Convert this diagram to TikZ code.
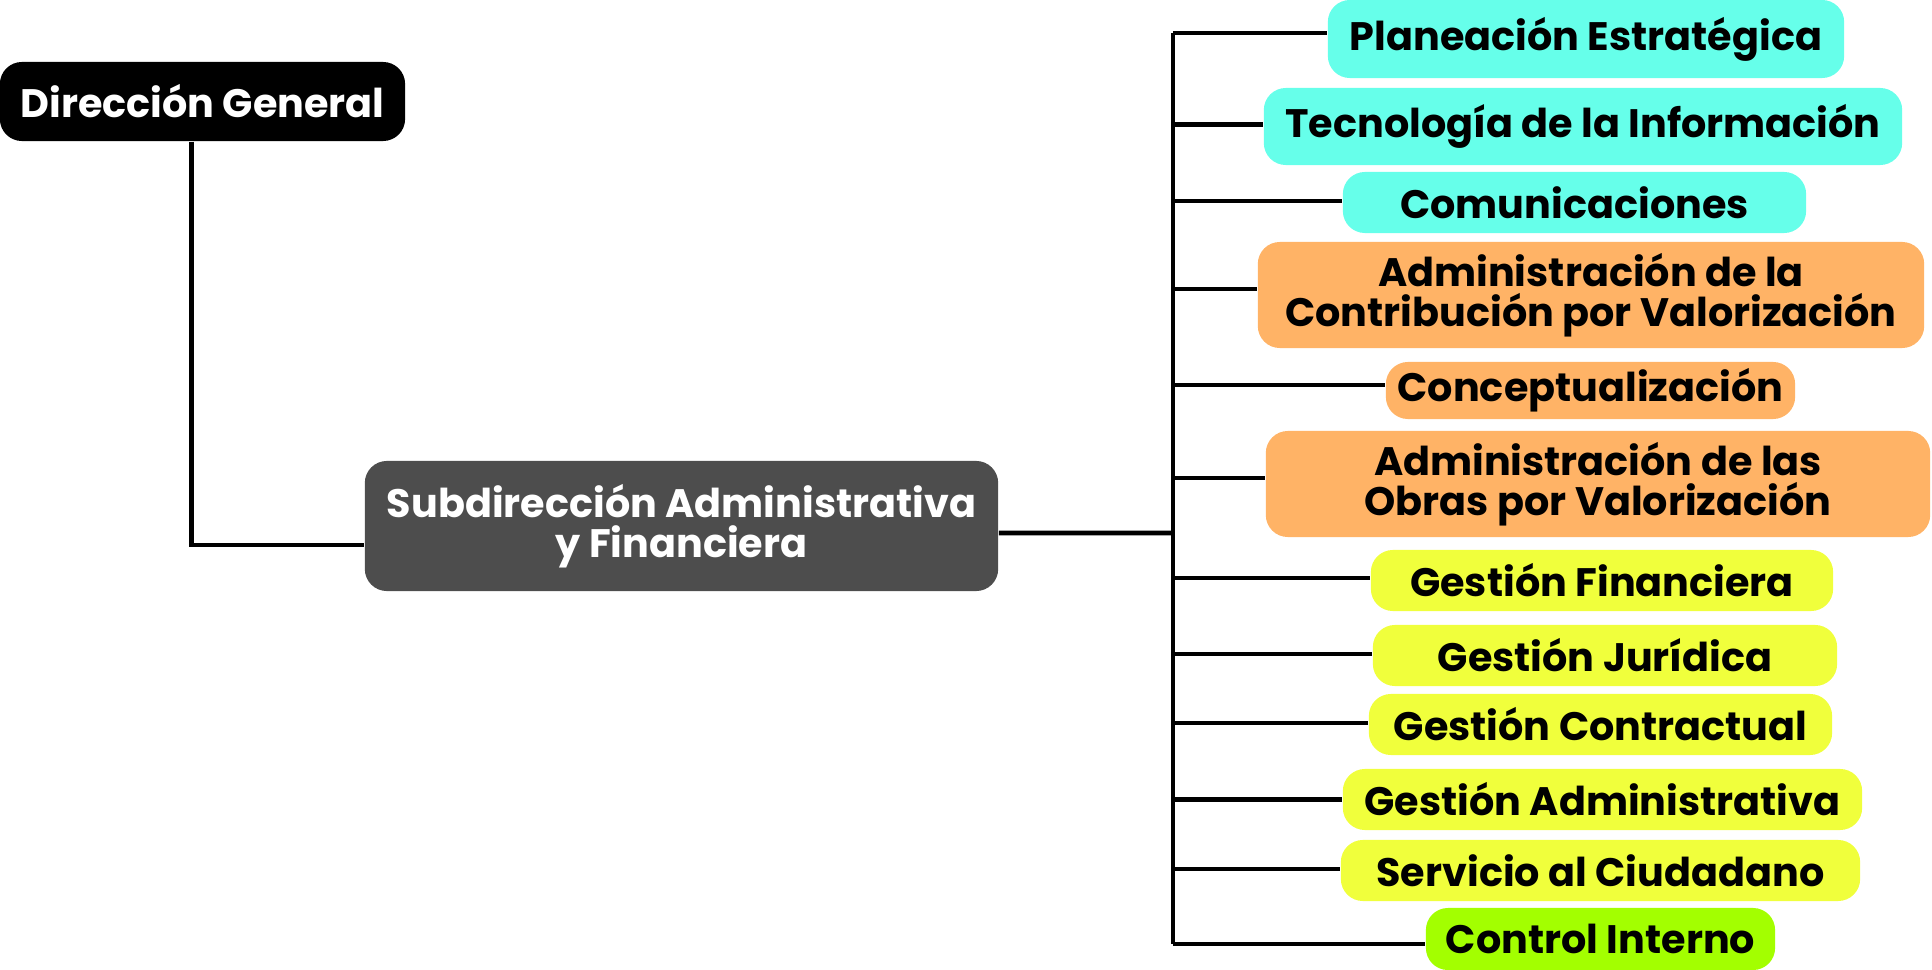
\documentclass[tikz,border=0pt]{standalone}
\usepackage{fontspec}
\setmainfont{Poppins}
\usetikzlibrary{positioning, calc}

\definecolor{boss}{HTML}{000000}
\definecolor{subgray}{HTML}{4D4D4D}
\definecolor{aqua}{HTML}{66FFEA}
\definecolor{peach}{HTML}{FFB366}
\definecolor{lemon}{HTML}{F0FF3C}
\definecolor{lime}{HTML}{A3FF00}

\begin{document}
\begin{tikzpicture}[
            x=0.01cm, y=-0.01cm,
            block/.style={rectangle, rounded corners=0.22cm, align=center, inner sep=0pt,
                font=\bfseries\fontsize{11.3}{11.5}\selectfont},
            unit/.style={block, minimum height=0.61cm, text=black},
            link/.style={line width=1.3pt, black}
        ]

        \useasboundingbox (0,0) rectangle (1932,970);

        \node[block, fill=boss, text=white, minimum width=4.05cm, minimum height=0.79cm] (dg) at (202.5,101.5) {Dirección General};
        \node[block, fill=subgray, text=white, minimum width=6.33cm, minimum height=1.30cm] (sub) at (681.5,526) {Subdirección Administrativa\\ y Financiera};

        \node[unit, fill=aqua, minimum width=5.16cm, minimum height=0.78cm] (plan) at (1586,39) {Planeación Estratégica};
        \node[unit, fill=aqua, minimum width=6.38cm, minimum height=0.77cm] (tic) at (1583,126.5) {Tecnología de la Información};
        \node[unit, fill=aqua, minimum width=4.63cm] (com) at (1574.5,202.5) {Comunicaciones};
        \node[unit, fill=peach, minimum width=6.66cm, minimum height=1.06cm] (contrib) at (1591,295) {Administración de la\\ Contribución por Valorización};
        \node[unit, fill=peach, minimum width=4.09cm, minimum height=0.57cm] (concep) at (1590.5,390.5) {Conceptualización};
        \node[unit, fill=peach, minimum width=6.64cm, minimum height=1.06cm] (obras) at (1598,484) {Administración de las\\ Obras por Valorización};
        \node[unit, fill=lemon, minimum width=4.62cm] (gfin) at (1602,580.5) {Gestión Financiera};
        \node[unit, fill=lemon, minimum width=4.64cm] (gjur) at (1605,655.5) {Gestión Jurídica};
        \node[unit, fill=lemon, minimum width=4.63cm] (gcon) at (1600.5,724.5) {Gestión Contractual};
        \node[unit, fill=lemon, minimum width=5.19cm] (gadm) at (1602.5,799.5) {Gestión Administrativa};
        \node[unit, fill=lemon, minimum width=5.19cm] (serv) at (1600.5,870.5) {Servicio al Ciudadano};
        \node[unit, fill=lime, minimum width=3.49cm, minimum height=0.62cm] (ctrl) at (1600.5,939) {Control Interno};

        \coordinate (bus) at (1173,533);

        \draw[link] ([xshift=-0.11cm]dg.south) |- ([yshift=-0.19cm]sub.west);
        \draw[link] ([yshift=-0.07cm]sub.east) -- (bus);
        \draw[link] ([yshift=0.06cm]plan.west -| bus) -- ([yshift=-0.05cm]ctrl.west -| bus);

        \foreach \n/\dy in {plan/0.06, tic/0.02, com/0.015, contrib/0.06, concep/0.055, obras/0.06, gfin/0.025, gjur/0.015, gcon/0.015, gadm/0, serv/0.015, ctrl/-0.05}
            \draw[link] ([yshift=\dy cm]\n.west -| bus) -- ([yshift=\dy cm]\n.west);

\end{tikzpicture}
\end{document}
